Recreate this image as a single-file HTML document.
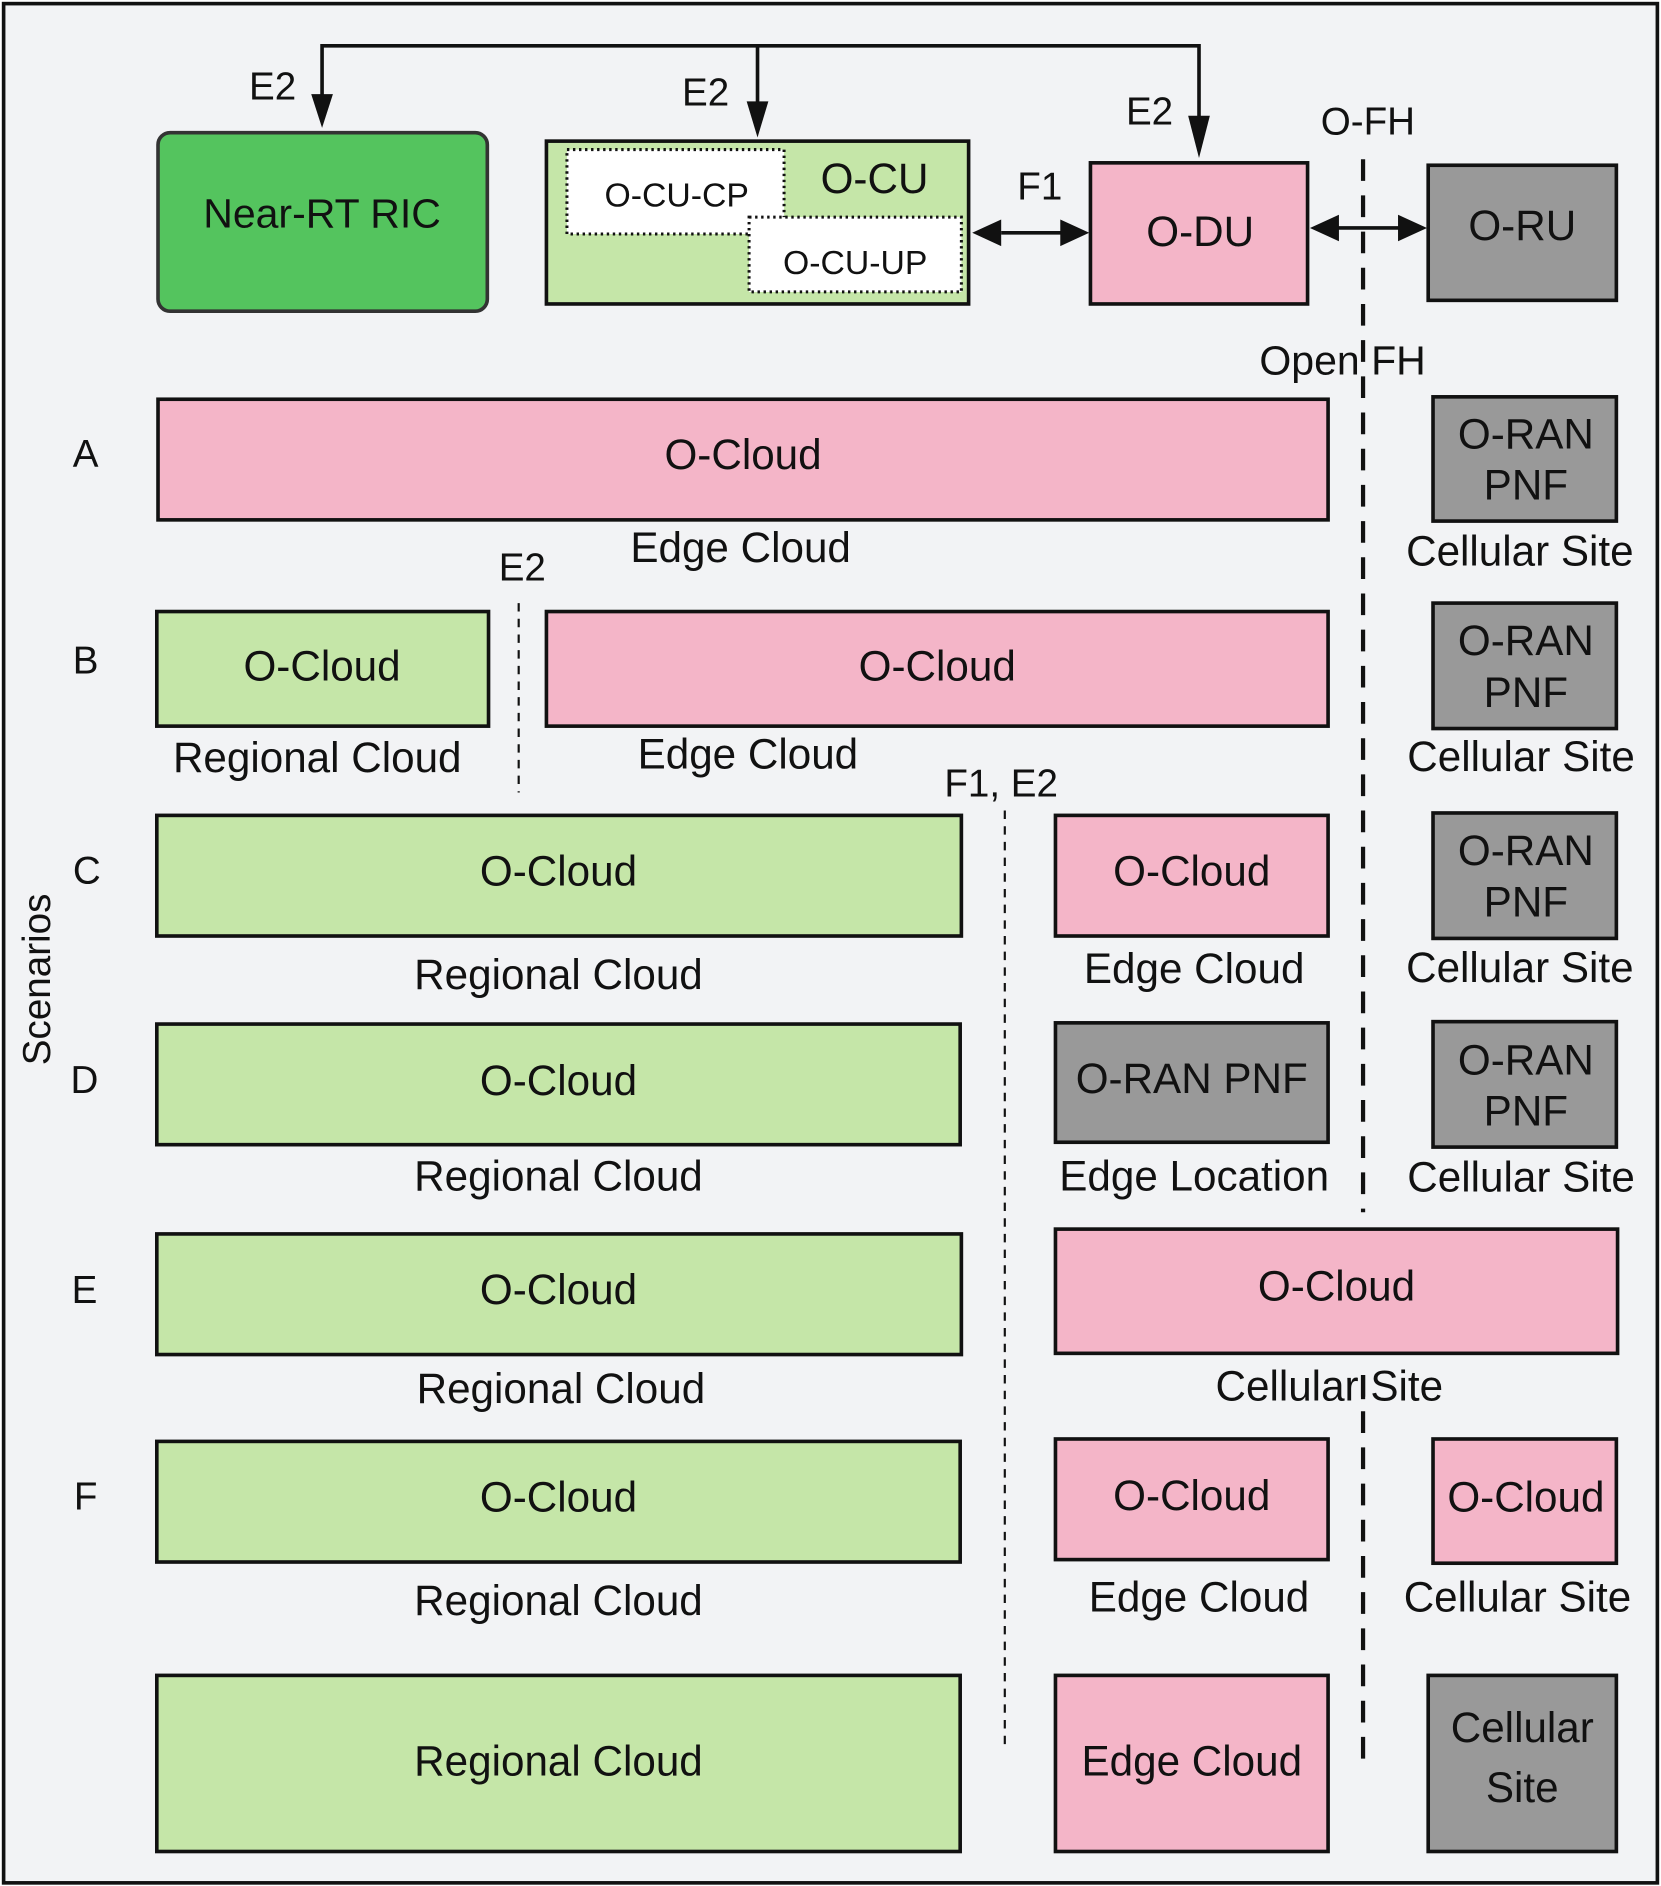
<!DOCTYPE html>
<html><head><meta charset="utf-8"><style>
html,body{margin:0;padding:0;background:#fff}
svg{display:block}
text{font-family:"Liberation Sans",Arial,sans-serif;fill:#111;text-anchor:middle;dominant-baseline:central}
</style></head><body>
<svg width="1661" height="1886" viewBox="0 0 1377 1563.6" preserveAspectRatio="none" xmlns="http://www.w3.org/2000/svg">
<rect x="3" y="3" width="1371" height="1558" fill="#f2f3f5" stroke="#111" stroke-width="3"/>
<!-- dashed lines -->
<line x1="1130" y1="132" x2="1130" y2="1005" stroke="#111" stroke-width="3.5" stroke-dasharray="18,12"/>
<line x1="1130" y1="1140" x2="1130" y2="1458" stroke="#111" stroke-width="3.5" stroke-dasharray="18,12"/>
<line x1="430" y1="500" x2="430" y2="657" stroke="#111" stroke-width="1.8" stroke-dasharray="7,6"/>
<line x1="833" y1="672" x2="833" y2="1452" stroke="#111" stroke-width="1.8" stroke-dasharray="7,6"/>
<!-- E2 bus -->
<polyline points="267,90 267,38 994,38 994,115" fill="none" stroke="#111" stroke-width="3"/>
<line x1="628" y1="38" x2="628" y2="98" stroke="#111" stroke-width="3"/>
<polygon points="258,78 276,78 267,106" fill="#111"/>
<polygon points="619,84 637,84 628,114" fill="#111"/>
<polygon points="985,96 1003,96 994,131" fill="#111"/>
<text x="226" y="72" font-size="32">E2</text>
<text x="585" y="77" font-size="32">E2</text>
<text x="953" y="93" font-size="32">E2</text>
<!-- top boxes -->
<rect x="131" y="110" width="273" height="148" rx="10" fill="#54c45e" stroke="#333" stroke-width="3"/>
<text x="267" y="177" font-size="34">Near-RT RIC</text>
<rect x="453" y="117" width="350" height="135" fill="#c5e6a8" stroke="#111" stroke-width="3"/>
<polygon points="470,124 650,124 650,180 797,180 797,242 621,242 621,194 470,194" fill="#fff"/>
<rect x="470" y="124" width="180" height="70" fill="none" stroke="#111" stroke-width="2.5" stroke-dasharray="2,3"/>
<rect x="621" y="180" width="176" height="62" fill="#fff" stroke="#111" stroke-width="2.5" stroke-dasharray="2,3"/>
<text x="725" y="148" font-size="35">O-CU</text>
<text x="561" y="162" font-size="28">O-CU-CP</text>
<text x="709" y="218" font-size="28">O-CU-UP</text>
<rect x="904" y="135" width="180" height="117" fill="#f4b5c8" stroke="#111" stroke-width="3"/>
<text x="995" y="192" font-size="35">O-DU</text>
<rect x="1184" y="137" width="156" height="112" fill="#999" stroke="#111" stroke-width="3"/>
<text x="1262" y="187" font-size="35">O-RU</text>
<!-- F1 arrow -->
<line x1="830" y1="193" x2="880" y2="193" stroke="#111" stroke-width="3"/>
<polygon points="806,193 830,182 830,204" fill="#111"/>
<polygon points="903,193 879,182 879,204" fill="#111"/>
<text x="862" y="155" font-size="32">F1</text>
<!-- O-FH arrow -->
<line x1="1108" y1="189" x2="1160" y2="189" stroke="#111" stroke-width="3"/>
<polygon points="1086,189 1110,178 1110,200" fill="#111"/>
<polygon points="1183,189 1159,178 1159,200" fill="#111"/>
<text x="1134" y="101" font-size="32">O-FH</text>
<text x="1113" y="299" font-size="34">Open FH</text>
<!-- Row A -->
<text x="71" y="377" font-size="32">A</text>
<rect x="131" y="331" width="970" height="100" fill="#f4b5c8" stroke="#111" stroke-width="3"/>
<text x="616" y="377" font-size="35">O-Cloud</text>
<text x="614" y="454" font-size="35">Edge Cloud</text>
<rect x="1188" y="329" width="152" height="103" fill="#999" stroke="#111" stroke-width="3"/>
<text x="1265" y="360" font-size="35">O-RAN</text>
<text x="1265" y="402" font-size="35">PNF</text>
<text x="1260" y="457" font-size="35">Cellular Site</text>
<!-- Row B -->
<text x="71" y="548" font-size="32">B</text>
<rect x="130" y="507" width="275" height="95" fill="#c5e6a8" stroke="#111" stroke-width="3"/>
<text x="267" y="552" font-size="35">O-Cloud</text>
<text x="263" y="628" font-size="35">Regional Cloud</text>
<text x="433" y="471" font-size="32">E2</text>
<rect x="453" y="507" width="648" height="95" fill="#f4b5c8" stroke="#111" stroke-width="3"/>
<text x="777" y="552" font-size="35">O-Cloud</text>
<text x="620" y="625" font-size="35">Edge Cloud</text>
<rect x="1188" y="500" width="152" height="104" fill="#999" stroke="#111" stroke-width="3"/>
<text x="1265" y="531" font-size="35">O-RAN</text>
<text x="1265" y="574" font-size="35">PNF</text>
<text x="1261" y="627" font-size="35">Cellular Site</text>
<text x="830" y="650" font-size="32">F1, E2</text>
<!-- Row C -->
<text x="72" y="722" font-size="32">C</text>
<rect x="130" y="676" width="667" height="100" fill="#c5e6a8" stroke="#111" stroke-width="3"/>
<text x="463" y="722" font-size="35">O-Cloud</text>
<text x="463" y="808" font-size="35">Regional Cloud</text>
<rect x="875" y="676" width="226" height="100" fill="#f4b5c8" stroke="#111" stroke-width="3"/>
<text x="988" y="722" font-size="35">O-Cloud</text>
<text x="990" y="803" font-size="35">Edge Cloud</text>
<rect x="1188" y="674" width="152" height="104" fill="#999" stroke="#111" stroke-width="3"/>
<text x="1265" y="705" font-size="35">O-RAN</text>
<text x="1265" y="748" font-size="35">PNF</text>
<text x="1260" y="802" font-size="35">Cellular Site</text>
<!-- Row D -->
<text x="70" y="896" font-size="32">D</text>
<rect x="130" y="849" width="666" height="100" fill="#c5e6a8" stroke="#111" stroke-width="3"/>
<text x="463" y="896" font-size="35">O-Cloud</text>
<text x="463" y="975" font-size="35">Regional Cloud</text>
<rect x="875" y="848" width="226" height="99" fill="#999" stroke="#111" stroke-width="3"/>
<text x="988" y="894" font-size="35">O-RAN PNF</text>
<text x="990" y="975" font-size="35">Edge Location</text>
<rect x="1188" y="847" width="152" height="104" fill="#999" stroke="#111" stroke-width="3"/>
<text x="1265" y="879" font-size="35">O-RAN</text>
<text x="1265" y="921" font-size="35">PNF</text>
<text x="1261" y="976" font-size="35">Cellular Site</text>
<!-- Row E -->
<text x="70" y="1070" font-size="32">E</text>
<rect x="130" y="1023" width="667" height="100" fill="#c5e6a8" stroke="#111" stroke-width="3"/>
<text x="463" y="1069" font-size="35">O-Cloud</text>
<text x="465" y="1151" font-size="35">Regional Cloud</text>
<rect x="875" y="1019" width="466" height="103" fill="#f4b5c8" stroke="#111" stroke-width="3"/>
<text x="1108" y="1066" font-size="35">O-Cloud</text>
<text x="1102" y="1149" font-size="35">Cellular Site</text>
<line x1="1130" y1="1140" x2="1130" y2="1160" stroke="#111" stroke-width="3.5"/>
<!-- Row F -->
<text x="71" y="1241" font-size="32">F</text>
<rect x="130" y="1195" width="666" height="100" fill="#c5e6a8" stroke="#111" stroke-width="3"/>
<text x="463" y="1241" font-size="35">O-Cloud</text>
<text x="463" y="1327" font-size="35">Regional Cloud</text>
<rect x="875" y="1193" width="226" height="100" fill="#f4b5c8" stroke="#111" stroke-width="3"/>
<text x="988" y="1240" font-size="35">O-Cloud</text>
<text x="994" y="1324" font-size="35">Edge Cloud</text>
<rect x="1188" y="1193" width="152" height="103" fill="#f4b5c8" stroke="#111" stroke-width="3"/>
<text x="1265" y="1241" font-size="35">O-Cloud</text>
<text x="1258" y="1324" font-size="35">Cellular Site</text>
<!-- Bottom -->
<rect x="130" y="1389" width="666" height="146" fill="#c5e6a8" stroke="#111" stroke-width="3"/>
<text x="463" y="1460" font-size="35">Regional Cloud</text>
<rect x="875" y="1389" width="226" height="146" fill="#f4b5c8" stroke="#111" stroke-width="3"/>
<text x="988" y="1460" font-size="35">Edge Cloud</text>
<rect x="1184" y="1389" width="156" height="146" fill="#999" stroke="#111" stroke-width="3"/>
<text x="1262" y="1432" font-size="35">Cellular</text>
<text x="1262" y="1482" font-size="35">Site</text>
<text x="31" y="812" font-size="32" transform="rotate(-90 31 812)">Scenarios</text>
</svg>
</body></html>
